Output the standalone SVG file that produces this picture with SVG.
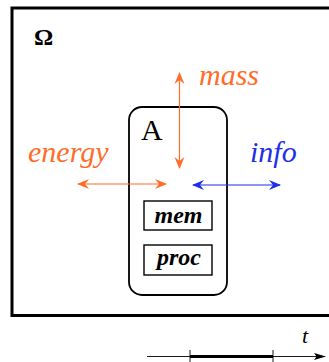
<svg xmlns="http://www.w3.org/2000/svg" width="329" height="362" viewBox="0 0 329 362">
<style>
.lbl{font-family:"Liberation Serif","Times New Roman",serif;font-style:italic}
.or{fill:#ff6d2a}
.bl{fill:#1f2ee8}
.box{fill:none;stroke:#000;stroke-width:1.4}
.bt{font-family:"Liberation Serif","Times New Roman",serif;font-style:italic;font-weight:bold;font-size:24px;text-anchor:middle}
</style>
<defs>
<marker id="ao" markerUnits="userSpaceOnUse" markerWidth="14" markerHeight="12" refX="11" refY="5" orient="auto-start-reverse" viewBox="0 0 14 10">
<path d="M0,0 L12,5 L0,10 L4,5 z" fill="#ff6d2a"/>
</marker>
<marker id="ab" markerUnits="userSpaceOnUse" markerWidth="14" markerHeight="12" refX="11" refY="5" orient="auto-start-reverse" viewBox="0 0 14 10">
<path d="M0,0 L12,5 L0,10 L4,5 z" fill="#1f2ee8"/>
</marker>
<marker id="ak" markerUnits="userSpaceOnUse" markerWidth="12" markerHeight="8" refX="11" refY="3.5" orient="auto" viewBox="0 0 12 7">
<path d="M0,0 L12,3.5 L0,7 L2.5,3.5 z" fill="#000"/>
</marker>
</defs>
<rect width="329" height="362" fill="#fff"/>
<g id="omega">
<rect x="12" y="8" width="330" height="307.5" fill="none" stroke="#000" stroke-width="3"/>
<text x="34" y="45" font-family="Liberation Serif, serif" font-weight="bold" font-size="24">Ω</text>
</g>
<g id="agent">
<rect x="129" y="107" width="98" height="188" rx="13" ry="13" fill="none" stroke="#000" stroke-width="1.8"/>
<text x="141" y="140" font-family="Liberation Serif, serif" font-size="30">A</text>
</g>
<g id="mem">
<rect class="box" x="144" y="201" width="68" height="29"/>
<text class="bt" x="178.5" y="223">mem</text>
</g>
<g id="proc">
<rect class="box" x="144" y="245" width="68" height="30"/>
<text class="bt" x="179" y="265">proc</text>
</g>
<g id="labels">
<text class="lbl or" x="199" y="85" font-size="30">mass</text>
<text class="lbl or" x="28" y="162" font-size="30">energy</text>
<text class="lbl bl" x="250" y="162" font-size="30">info</text>
</g>
<g id="connectors" fill="none">
<line x1="179.5" y1="73" x2="179.5" y2="168" stroke="#ff6d2a" stroke-width="1.2" marker-start="url(#ao)" marker-end="url(#ao)"/>
<line x1="78" y1="184" x2="166" y2="184" stroke="#ff6d2a" stroke-width="1.2" marker-start="url(#ao)" marker-end="url(#ao)"/>
<line x1="193" y1="185" x2="280" y2="185" stroke="#1f2ee8" stroke-width="1.2" marker-start="url(#ab)" marker-end="url(#ab)"/>
</g>
<g id="timeline">
<line x1="147" y1="356.5" x2="325" y2="356.5" stroke="#000" stroke-width="0.9" marker-end="url(#ak)"/>
<line x1="190" y1="356.5" x2="273" y2="356.5" stroke="#000" stroke-width="2.8"/>
<line x1="190" y1="350" x2="190" y2="362" stroke="#000" stroke-width="0.9"/>
<line x1="273" y1="350" x2="273" y2="362" stroke="#000" stroke-width="0.9"/>
<text class="lbl" x="302" y="343" font-size="22">t</text>
</g>
</svg>
